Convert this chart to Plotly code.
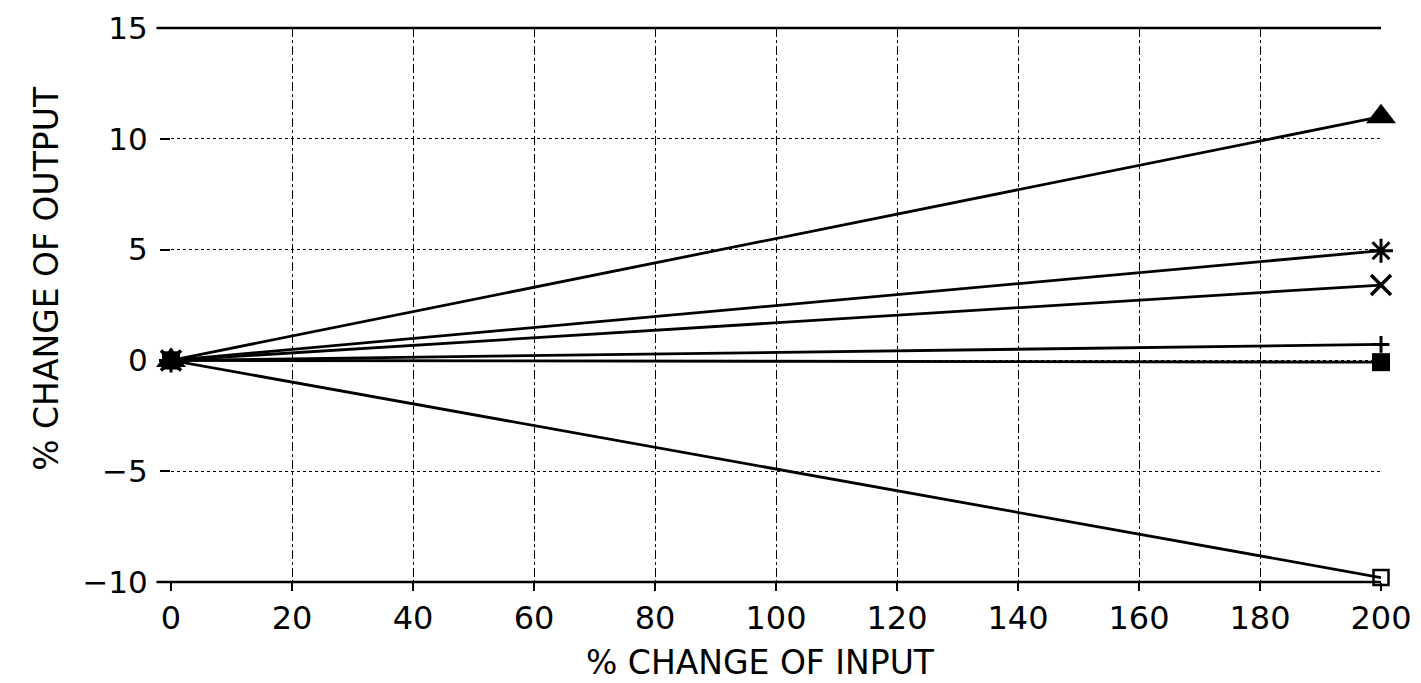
import plotly.graph_objects as go

# Data
input_change = [0, 200]
series_names = ["Series A", "Series B", "Series C", "Series D", "Series E", "Series F"]
series_a = [0, 11.0]    # filled triangle
series_b = [0, 4.95]    # asterisk
series_c = [0, 3.4]     # x
series_d = [0, 0.72]    # small cross
series_e = [0, -0.08]   # filled square
series_f = [0, -9.8]    # open square
x_ticks = [0, 20, 40, 60, 80, 100, 120, 140, 160, 180, 200]
y_ticks = [-10, -5, 0, 5, 10, 15]

FONT = "DejaVu Sans"

styles = [
    (series_a, dict(symbol="triangle-up", size=26, color="black")),
    (series_b, dict(symbol="asterisk-open", size=20, color="black", line=dict(width=3, color="black"))),
    (series_c, dict(symbol="x-thin-open", size=20, color="black", line=dict(width=3.5, color="black"))),
    (series_d, dict(symbol="cross-thin-open", size=12, color="black", line=dict(width=3, color="black"))),
    (series_e, dict(symbol="square", size=18, color="black")),
    (series_f, dict(symbol="square-open", size=15, color="black", line=dict(width=2.5, color="black"))),
]

fig = go.Figure()
for name, (vals, mk) in zip(series_names, styles):
    fig.add_trace(go.Scatter(
        x=input_change, y=vals, name=name, mode="lines+markers",
        line=dict(color="black", width=2.8),
        marker=mk, cliponaxis=False, showlegend=False,
    ))

fig.update_layout(
    width=1421, height=683,
    paper_bgcolor="white", plot_bgcolor="white",
    margin=dict(l=163, r=48, t=20, b=109),
    font=dict(family=FONT, color="black", size=30),
    showlegend=False,
)

fig.update_xaxes(
    range=[0, 200], tickvals=x_ticks, ticktext=[str(v) for v in x_ticks],
    showgrid=True, gridcolor="black", gridwidth=1, griddash="dashdot",
    zeroline=False, showline=False, automargin=False,
    ticks="outside", ticklen=8, tickcolor="black", tickwidth=1.5,
    tickfont=dict(family=FONT, size=32, color="black"),
    ticklabeloverflow="allow",
)
fig.update_yaxes(
    range=[-10, 15], tickvals=y_ticks, ticktext=[str(v) if v >= 0 else "\u2212" + str(-v) for v in y_ticks],
    showgrid=True, gridcolor="black", gridwidth=1, griddash="dot",
    zeroline=False, showline=False, automargin=False,
    ticks="outside", ticklen=10, tickcolor="black", tickwidth=1.5,
    tickfont=dict(family=FONT, size=31, color="black"),
    ticklabelstandoff=6, ticklabeloverflow="allow",
)

# axis titles
fig.add_annotation(text="% CHANGE OF INPUT", xref="paper", yref="paper",
                   x=0.487, y=-0.146, showarrow=False, xanchor="center", yanchor="middle",
                   font=dict(family=FONT, size=33, color="black"))
fig.add_annotation(text="% CHANGE OF OUTPUT", xref="paper", yref="paper",
                   x=-0.103, y=0.548, showarrow=False, xanchor="center", yanchor="middle",
                   textangle=-90, font=dict(family=FONT, size=33, color="black"))

# frame lines (top and bottom solid)
fig.add_shape(type="line", xref="x domain", yref="y domain", x0=-0.012, x1=1.0, y0=1, y1=1,
              line=dict(color="black", width=2.5))
fig.add_shape(type="line", xref="x domain", yref="y domain", x0=-0.012, x1=1.0, y0=0, y1=0,
              line=dict(color="black", width=2.5))

fig.write_html("out.html")
